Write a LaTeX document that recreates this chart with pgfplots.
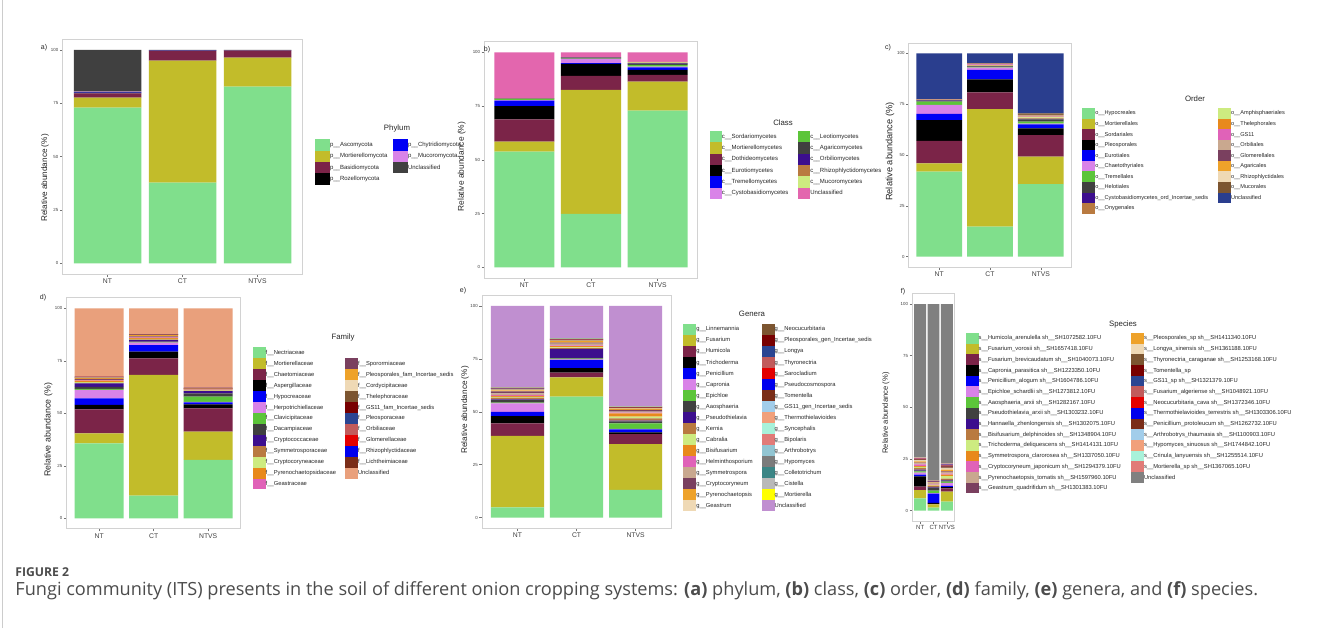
\documentclass[border=0pt]{standalone}
\usepackage{pgfplots}
\pgfplotsset{compat=1.18}
\usepackage{fontspec}
\setmainfont{Liberation Sans}
\newfontfamily\capfont{Open Sans}
\definecolor{c1}{HTML}{80DF8C}
\definecolor{c2}{HTML}{C2BC2A}
\definecolor{c3}{HTML}{7B2448}
\definecolor{c4}{HTML}{000000}
\definecolor{c5}{HTML}{0000F5}
\definecolor{c6}{HTML}{D983E8}
\definecolor{c7}{HTML}{5CC53A}
\definecolor{c8}{HTML}{404040}
\definecolor{c9}{HTML}{3C0E8E}
\definecolor{c10}{HTML}{B97A40}
\definecolor{c11}{HTML}{CDEB80}
\definecolor{c12}{HTML}{E8891C}
\definecolor{c13}{HTML}{E062B8}
\definecolor{c14}{HTML}{C9A88F}
\definecolor{c15}{HTML}{7A405F}
\definecolor{c16}{HTML}{EEA22A}
\definecolor{c17}{HTML}{EFD9B5}
\definecolor{c18}{HTML}{7C5530}
\definecolor{c19}{HTML}{780000}
\definecolor{c20}{HTML}{2B4592}
\definecolor{c21}{HTML}{C25B5B}
\definecolor{c22}{HTML}{E40000}
\definecolor{c23}{HTML}{0000EE}
\definecolor{c24}{HTML}{7A2D18}
\definecolor{c25}{HTML}{A2CDEA}
\definecolor{c26}{HTML}{F1A07B}
\definecolor{c27}{HTML}{A8F2DA}
\definecolor{c28}{HTML}{E17B78}
\definecolor{c29}{HTML}{92C5D2}
\definecolor{c30}{HTML}{7B7B7B}
\definecolor{c31}{HTML}{3B8585}
\definecolor{c32}{HTML}{B9B9B9}
\definecolor{c33}{HTML}{FFFF00}
\definecolor{ua}{HTML}{404040}
\definecolor{ub}{HTML}{E366AE}
\definecolor{uc}{HTML}{2A3E8E}
\definecolor{ud}{HTML}{E9A07C}
\definecolor{ue}{HTML}{C08FD0}
\definecolor{uf}{HTML}{808080}
\newcommand{\SB}[4]{\addplot[fill=#1,draw=none,forget plot] coordinates {(1,#2) (2,#3) (3,#4)};}
\newcommand{\LA}[2]{\addlegendimage{fill=#1,draw=none}\addlegendentry{\makebox[\cw][l]{#2}}}
\newcommand{\LE}[2]{\addlegendimage{fill=#1,draw=none}\addlegendentry{#2}}
\newcommand{\UU}{\_\_}
\pgfplotsset{
  panel/.style={scale only axis, anchor=south west, xmin=0.4, xmax=3.6, ymin=-5, ymax=105,
    ybar stacked, bar width=0.9, xtick={1,2,3}, xticklabels={NT,CT,NTVS},
    ytick={0,25,50,75,100}, yticklabels={0,25,50,75,100},
    axis line style={gray!35, line width=0.4pt}, tick style={black!55, line width=0.3pt},
    major tick length=1.3pt, tick align=outside, xtick pos=left, ytick pos=left,
    xticklabel style={font=\fontsize{3.4}{4}\selectfont, text=black!75, inner sep=0.9pt},
    yticklabel style={font=\fontsize{2.2}{2.6}\selectfont, text=black!75, inner sep=0.6pt}},
  leg/.style n args={6}{legend columns=2, legend cell align=left,
    legend style={at={(axis description cs:#1,#2)}, anchor=north west, draw=none, fill=none, inner sep=0pt, outer sep=0pt,
      row sep=0pt, column sep=0pt, font=\legfont,
      nodes={inner sep=0pt, text height=2.2pt, text depth=0.6pt, text=black!85}},
    legend image code/.code={\fill[##1,draw=none] (0pt,-#3) rectangle (#4,#3); \path[draw=none] (0pt,-#6) rectangle (#5,#6);}}
}
\begin{document}
\begin{tikzpicture}
\path[use as bounding box] (0pt,0pt) rectangle (664.5pt,314pt);
\fill[white] (0pt,0pt) rectangle (664.5pt,314pt);
\draw[gray!40, line width=0.5pt] (1.25pt,0pt) -- (1.25pt,314pt);
% ---------------- a) Phylum
\def\cw{31.5pt}\def\legfont{\fontsize{3}{3.5}\selectfont}
\begin{axis}[panel, at={(31.25pt,177pt)}, width=120pt, height=117.35pt, leg={1.0521}{0.5737}{2.45pt}{5pt}{7.5pt}{2.825pt}]
\SB{c1}{73.0}{37.8}{82.8}
\SB{c2}{4.7}{57.2}{13.6}
\SB{c3}{2.0}{4.6}{3.3}
\SB{c4}{0.3}{0.1}{0.1}
\SB{c5}{0.2}{0.1}{0.05}
\SB{c6}{0.3}{0.1}{0.05}
\SB{ua}{19.5}{0.1}{0.1}
\LA{c1}{p\UU Ascomycota}\LE{c5}{p\UU Chytridiomycota}
\LA{c2}{p\UU Mortierellomycota}\LE{c6}{p\UU Mucoromycota}
\LA{c3}{p\UU Basidiomycota}\LE{ua}{Unclassified}
\LA{c4}{p\UU Rozellomycota}
\end{axis}
% ---------------- b) Class
\def\cw{38.15pt}
\begin{axis}[panel, at={(242.15pt,174.975pt)}, width=106.7pt, height=118.25pt, leg={1.0576}{0.6216}{2.4pt}{4.65pt}{6pt}{2.825pt}]
\SB{c1}{53.8}{24.8}{72.9}
\SB{c2}{4.6}{57.7}{13.5}
\SB{c3}{10.4}{6.5}{3.1}
\SB{c4}{6.2}{5.6}{2.3}
\SB{c5}{2.5}{0.4}{1.2}
\SB{c6}{0.3}{1.9}{0.3}
\SB{c7}{0.4}{0.2}{0.8}
\SB{c8}{0.2}{0.4}{0.6}
\SB{c9}{0.1}{0.1}{0.3}
\SB{c10}{0.1}{0.1}{0.2}
\SB{c11}{0.1}{0.1}{0.3}
\SB{ub}{21.3}{2.2}{4.5}
\LA{c1}{c\UU Sordariomycetes}\LE{c7}{c\UU Leotiomycetes}
\LA{c2}{c\UU Mortierellomycetes}\LE{c8}{c\UU Agaricomycetes}
\LA{c3}{c\UU Dothideomycetes}\LE{c9}{c\UU Orbiliomycetes}
\LA{c4}{c\UU Eurotiomycetes}\LE{c10}{c\UU Rhizophlyctidomycetes}
\LA{c5}{c\UU Tremellomycetes}\LE{c11}{c\UU Mucoromycetes}
\LA{c6}{c\UU Cystobasidiomycetes}\LE{ub}{Unclassified}
\end{axis}
% ---------------- c) Order
\def\cw{61.35pt}\def\legfont{\fontsize{2.8}{3.3}\selectfont}
\begin{axis}[panel, at={(454.35pt,180.55pt)}, width=81.3pt, height=111.9pt, leg={1.0677}{0.7099}{2.25pt}{4.35pt}{6.5pt}{2.64pt}]
\SB{c1}{41.8}{14.8}{35.7}
\SB{c2}{4.1}{57.8}{13.5}
\SB{c3}{11.0}{8.2}{10.6}
\SB{c4}{10.3}{6.4}{3.3}
\SB{c5}{3.0}{4.6}{2.0}
\SB{c6}{4.4}{1.2}{0.3}
\SB{c7}{1.6}{0.3}{1.0}
\SB{c8}{0.4}{0.2}{1.1}
\SB{c9}{0.2}{0.2}{0.2}
\SB{c10}{0.1}{0.2}{0.3}
\SB{c11}{0.1}{0.1}{0.5}
\SB{c12}{0.1}{0.2}{0.2}
\SB{c13}{0.05}{0.3}{0.1}
\SB{c14}{0.05}{0.1}{0.3}
\SB{c15}{0.05}{0.3}{0.2}
\SB{c16}{0.05}{0.1}{0.2}
\SB{c17}{0.05}{0.05}{0.2}
\SB{c18}{0.05}{0.05}{0.8}
\SB{uc}{22.6}{4.9}{29.5}
\LA{c1}{o\UU Hypocreales}\LE{c11}{o\UU Amphisphaeriales}
\LA{c2}{o\UU Mortierellales}\LE{c12}{o\UU Thelephorales}
\LA{c3}{o\UU Sordariales}\LE{c13}{o\UU GS11}
\LA{c4}{o\UU Pleosporales}\LE{c14}{o\UU Orbiliales}
\LA{c5}{o\UU Eurotiales}\LE{c15}{o\UU Glomerellales}
\LA{c6}{o\UU Chaetothyriales}\LE{c16}{o\UU Agaricales}
\LA{c7}{o\UU Tremellales}\LE{c17}{o\UU Rhizophlyctidales}
\LA{c8}{o\UU Helotiales}\LE{c18}{o\UU Mucorales}
\LA{c9}{o\UU Cystobasidiomycetes\_ord\_Incertae\_sedis}\LE{uc}{Unclassified}
\LA{c10}{o\UU Onygenales}
\end{axis}
% ---------------- d) Family
\def\cw{39.65pt}\def\legfont{\fontsize{2.9}{3.4}\selectfont}
\begin{axis}[panel, at={(33.25pt,49.6pt)}, width=87.2pt, height=115.5pt, leg={1.0677}{0.7860}{2.35pt}{4.8pt}{6.5pt}{2.735pt}]
\SB{c1}{35.7}{10.8}{27.8}
\SB{c2}{4.8}{57.5}{13.5}
\SB{c3}{11.4}{7.9}{11.1}
\SB{c4}{2.1}{3.2}{1.9}
\SB{c5}{3.1}{3.1}{0.9}
\SB{c6}{4.0}{1.1}{0.3}
\SB{c7}{0.5}{0.2}{2.4}
\SB{c8}{1.0}{0.3}{1.6}
\SB{c9}{1.6}{0.8}{1.1}
\SB{c10}{0.3}{0.3}{0.2}
\SB{c11}{0.3}{0.3}{0.2}
\SB{c12}{0.8}{0.4}{0.3}
\SB{c13}{0.3}{0.2}{0.1}
\SB{c15}{0.5}{0.5}{0.2}
\SB{c16}{0.5}{0.6}{0.1}
\SB{c17}{0.1}{0.1}{0.05}
\SB{c18}{0.1}{0.1}{0.05}
\SB{c19}{0.05}{0.1}{0.05}
\SB{c20}{0.05}{0.05}{0.05}
\SB{c21}{0.05}{0.05}{0.05}
\SB{c22}{0.05}{0.05}{0.05}
\SB{c23}{0.05}{0.05}{0.05}
\SB{c24}{0.05}{0.05}{0.05}
\SB{ud}{32.6}{12.25}{37.9}
\LA{c1}{f\UU Nectriaceae}\LE{white}{}
\LA{c2}{f\UU Mortierellaceae}\LE{c15}{f\UU Sporormiaceae}
\LA{c3}{f\UU Chaetomiaceae}\LE{c16}{f\UU Pleosporales\_fam\_Incertae\_sedis}
\LA{c4}{f\UU Aspergillaceae}\LE{c17}{f\UU Cordycipitaceae}
\LA{c5}{f\UU Hypocreaceae}\LE{c18}{f\UU Thelephoraceae}
\LA{c6}{f\UU Herpotrichiellaceae}\LE{c19}{f\UU GS11\_fam\_Incertae\_sedis}
\LA{c7}{f\UU Clavicipitaceae}\LE{c20}{f\UU Pleosporaceae}
\LA{c8}{f\UU Dacampiaceae}\LE{c21}{f\UU Orbiliaceae}
\LA{c9}{f\UU Cryptococcaceae}\LE{c22}{f\UU Glomerellaceae}
\LA{c10}{f\UU Symmetrosporaceae}\LE{c23}{f\UU Rhizophlyctidaceae}
\LA{c11}{f\UU Cryptocoryneaceae}\LE{c24}{f\UU Lichtheimiaceae}
\LA{c12}{f\UU Pyrenochaetopsidaceae}\LE{ud}{Unclassified}
\LA{c13}{f\UU Geastraceae}
\end{axis}
% ---------------- e) Genera
\def\cw{32.7pt}
\begin{axis}[panel, at={(241pt,49.85pt)}, width=94.55pt, height=116.45pt, leg={1.0645}{0.8781}{2.35pt}{4.5pt}{6.5pt}{2.76pt}]
\SB{c1}{4.9}{57.2}{13.1}
\SB{c2}{33.8}{9.1}{21.7}
\SB{c3}{5.8}{2.2}{4.7}
\SB{c4}{3.5}{2.1}{0.8}
\SB{c5}{2.0}{3.9}{1.4}
\SB{c6}{4.0}{0.3}{0.3}
\SB{c7}{0.3}{0.3}{2.5}
\SB{c8}{1.2}{0.4}{1.0}
\SB{c9}{0.4}{4.3}{0.4}
\SB{c10}{0.8}{0.3}{1.0}
\SB{c11}{0.4}{0.4}{0.8}
\SB{c12}{0.5}{0.6}{1.6}
\SB{c13}{0.3}{0.3}{0.3}
\SB{c14}{0.8}{0.8}{0.5}
\SB{c15}{1.0}{0.5}{0.8}
\SB{c16}{0.4}{0.8}{0.6}
\SB{c17}{0.4}{0.2}{0.2}
\SB{c18}{0.3}{0.2}{0.2}
\SB{c19}{0.05}{0.05}{0.05}
\SB{c20}{0.05}{0.05}{0.05}
\SB{c21}{0.05}{0.05}{0.05}
\SB{c22}{0.05}{0.05}{0.05}
\SB{c23}{0.05}{0.05}{0.05}
\SB{c24}{0.05}{0.05}{0.05}
\SB{c25}{0.05}{0.05}{0.05}
\SB{c26}{0.05}{0.05}{0.05}
\SB{c27}{0.05}{0.05}{0.05}
\SB{c28}{0.05}{0.05}{0.05}
\SB{c29}{0.05}{0.05}{0.05}
\SB{c30}{0.05}{0.05}{0.05}
\SB{c31}{0.05}{0.05}{0.05}
\SB{c32}{0.05}{0.05}{0.05}
\SB{c33}{0.05}{0.05}{0.05}
\SB{ue}{38.45}{15.35}{47.35}
\LA{c1}{g\UU Linnemannia}\LE{c18}{g\UU Neocucurbitaria}
\LA{c2}{g\UU Fusarium}\LE{c19}{g\UU Pleosporales\_gen\_Incertae\_sedis}
\LA{c3}{g\UU Humicola}\LE{c20}{g\UU Longya}
\LA{c4}{g\UU Trichoderma}\LE{c21}{g\UU Thyronectria}
\LA{c5}{g\UU Penicillium}\LE{c22}{g\UU Sarocladium}
\LA{c6}{g\UU Capronia}\LE{c23}{g\UU Pseudocosmospora}
\LA{c7}{g\UU Epichloe}\LE{c24}{g\UU Tomentella}
\LA{c8}{g\UU Aaosphaeria}\LE{c25}{g\UU GS11\_gen\_Incertae\_sedis}
\LA{c9}{g\UU Pseudothielavia}\LE{c26}{g\UU Thermothielavioides}
\LA{c10}{g\UU Kernia}\LE{c27}{g\UU Syncephalis}
\LA{c11}{g\UU Cabralia}\LE{c28}{g\UU Bipolaris}
\LA{c12}{g\UU Bisifusarium}\LE{c29}{g\UU Arthrobotrys}
\LA{c13}{g\UU Helminthosporium}\LE{c30}{g\UU Hypomyces}
\LA{c14}{g\UU Symmetrospora}\LE{c31}{g\UU Colletotrichum}
\LA{c15}{g\UU Cryptocoryneum}\LE{c32}{g\UU Cistella}
\LA{c16}{g\UU Pyrenochaetopsis}\LE{c33}{g\UU Mortierella}
\LA{c17}{g\UU Geastrum}\LE{ue}{Unclassified}
\end{axis}
% ---------------- f) Species
\def\cw{76.15pt}
\begin{axis}[panel, at={(456.1pt,53.5pt)}, width=21.3pt, height=113.65pt, leg={1.2559}{0.8273}{2.3pt}{4.65pt}{6.5pt}{2.675pt},
  xticklabel style={font=\fontsize{3}{3.5}\selectfont}]
\SB{c1}{6.0}{1.5}{4.4}
\SB{c2}{4.0}{1.5}{4.8}
\SB{c3}{1.6}{0.3}{1.6}
\SB{c4}{5.0}{0.5}{0.6}
\SB{c5}{0.8}{4.5}{0.6}
\SB{c6}{1.0}{0.2}{1.5}
\SB{c7}{0.6}{1.2}{0.6}
\SB{c8}{0.4}{1.5}{0.5}
\SB{c9}{0.5}{0.3}{0.3}
\SB{c10}{0.8}{0.4}{0.6}
\SB{c11}{0.5}{0.2}{1.2}
\SB{c12}{0.4}{0.3}{0.8}
\SB{c13}{0.8}{0.2}{0.4}
\SB{c14}{0.5}{0.5}{0.8}
\SB{c15}{0.3}{0.1}{0.3}
\SB{c16}{0.6}{0.4}{0.9}
\SB{c17}{0.5}{0.1}{0.6}
\SB{c18}{0.4}{0.1}{0.5}
\SB{c19}{0.2}{0.1}{0.4}
\SB{c20}{0.1}{0.1}{0.3}
\SB{c21}{0.2}{0.1}{0.3}
\SB{c22}{0.1}{0.1}{0.2}
\SB{c23}{0.1}{0.1}{0.1}
\SB{c24}{0.1}{0.1}{0.1}
\SB{c25}{0.1}{0.05}{0.1}
\SB{c26}{0.1}{0.05}{0.1}
\SB{c27}{0.1}{0.05}{0.1}
\SB{c28}{0.1}{0.05}{0.1}
\SB{uf}{74.1}{85.4}{77.2}
\LA{c1}{s\UU Humicola\_arenulella sh\UU SH1072582.10FU}\LE{c16}{s\UU Pleosporales\_sp sh\UU SH1411340.10FU}
\LA{c2}{s\UU Fusarium\_vorosii sh\UU SH1657418.10FU}\LE{c17}{s\UU Longya\_sinensis sh\UU SH1361188.10FU}
\LA{c3}{s\UU Fusarium\_brevicaudatum sh\UU SH1040073.10FU}\LE{c18}{s\UU Thyronectria\_caraganae sh\UU SH1253168.10FU}
\LA{c4}{s\UU Capronia\_parasitica sh\UU SH1223350.10FU}\LE{c19}{s\UU Tomentella\_sp}
\LA{c5}{s\UU Penicillium\_alogum sh\UU SH1604786.10FU}\LE{c20}{s\UU GS11\_sp sh\UU SH1321379.10FU}
\LA{c6}{s\UU Epichloe\_schardlii sh\UU SH1273812.10FU}\LE{c21}{s\UU Fusarium\_algeriense sh\UU SH1048921.10FU}
\LA{c7}{s\UU Aaosphaeria\_arxii sh\UU SH1282167.10FU}\LE{c22}{s\UU Neocucurbitaria\_cava sh\UU SH1372346.10FU}
\LA{c8}{s\UU Pseudothielavia\_arxii sh\UU SH1303232.10FU}\LE{c23}{s\UU Thermothielavioides\_terrestris sh\UU SH1303306.10FU}
\LA{c9}{s\UU Hannaella\_zhenlongensis sh\UU SH1302075.10FU}\LE{c24}{s\UU Penicillium\_protoleucum sh\UU SH1262732.10FU}
\LA{c10}{s\UU Bisifusarium\_delphinoides sh\UU SH1348904.10FU}\LE{c25}{s\UU Arthrobotrys\_thaumasia sh\UU SH1100903.10FU}
\LA{c11}{s\UU Trichoderma\_deliquescens sh\UU SH1414131.10FU}\LE{c26}{s\UU Hypomyces\_sinuosus sh\UU SH1744842.10FU}
\LA{c12}{s\UU Symmetrospora\_clarorosea sh\UU SH1337050.10FU}\LE{c27}{s\UU Crinula\_lanyuensis sh\UU SH1255514.10FU}
\LA{c13}{s\UU Cryptocoryneum\_japonicum sh\UU SH1294379.10FU}\LE{c28}{s\UU Mortierella\_sp sh\UU SH1367065.10FU}
\LA{c14}{s\UU Pyrenochaetopsis\_tomatis sh\UU SH1597960.10FU}\LE{uf}{Unclassified}
\LA{c15}{s\UU Geastrum\_quadrifidum sh\UU SH1301383.10FU}
\end{axis}
% ---------------- titles and labels
\begin{scope}[x=0.5pt,y=0.5pt]
\tikzset{yl/.style={rotate=90, inner sep=0pt, text=black!85}, lt/.style={inner sep=0pt, font=\fontsize{3.9}{4.5}\selectfont, text=black!85}, pl/.style={inner sep=0pt, font=\fontsize{3.5}{4}\selectfont, text=black!85}}
\node[yl, font=\fontsize{4.1}{5}\selectfont] at (45,450) {Relative abundance (\%)};
\node[yl, font=\fontsize{4.2}{5}\selectfont] at (461.7,461.3) {Relative abundance (\%)};
\node[yl, font=\fontsize{4.6}{5}\selectfont] at (890,476.3) {Relative abundance (\%)};
\node[yl, font=\fontsize{4.4}{5}\selectfont] at (48.3,198) {Relative abundance (\%)};
\node[yl, font=\fontsize{4.1}{5}\selectfont] at (465,218) {Relative abundance (\%)};
\node[yl, font=\fontsize{3.8}{5}\selectfont] at (886,215) {Relative abundance (\%)};
\node[lt] at (397,500) {Phylum};
\node[lt] at (783,505.7) {Class};
\node[lt] at (1195,529) {Order};
\node[lt] at (343,291) {Family};
\node[lt] at (752,314) {Genera};
\node[lt] at (1123,304) {Species};
\node[pl] at (44,580) {a)};
\node[pl] at (487,578) {b)};
\node[pl] at (888,580) {c)};
\node[pl] at (43,330) {d)};
\node[pl] at (463,337) {e)};
\node[pl] at (903,336) {f)};
% ---------------- caption
\node[anchor=base west, inner sep=0pt, font=\capfont\bfseries\fontsize{6.1}{7}\selectfont, text=black!70] at (15,52) {FIGURE 2};
\node[anchor=base west, inner sep=0pt, font=\capfont\fontsize{9.08}{11}\selectfont, text=black!70] at (15,33) {Fungi community (ITS) presents in the soil of different onion cropping systems: \textbf{(a)} phylum, \textbf{(b)} class, \textbf{(c)} order, \textbf{(d)} family, \textbf{(e)} genera, and \textbf{(f)} species.};
\end{scope}
\end{tikzpicture}
\end{document}
